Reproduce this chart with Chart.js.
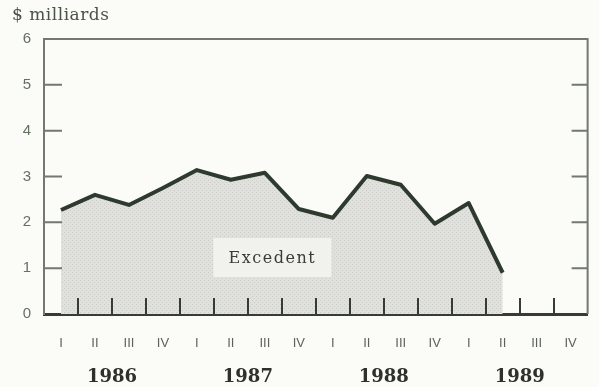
<!DOCTYPE html>
<html>
<head>
<meta charset="utf-8">
<script src="https://cdn.jsdelivr.net/npm/chart.js@4"></script>
<style>
  html, body { margin: 0; padding: 0; background: #fbfbf7; }
  #cadre { width: 599px; height: 387px; }
</style>
</head>
<body>
<div id="cadre"><canvas id="graf"></canvas></div>
<script>
// trimestres 1986-1989, excédent en milliards de dollars
const trimestres = ["I", "II", "III", "IV", "I", "II", "III", "IV", "I", "II", "III", "IV", "I", "II", "III", "IV"];
const annees = ["1986", "1987", "1988", "1989"];
const excedent = [2.27, 2.60, 2.38, 2.75, 3.14, 2.93, 3.08, 2.29, 2.10, 3.01, 2.82, 1.97, 2.42, 0.90];
const graduationsY = [0, 1, 2, 3, 4, 5, 6];
const etiquette = { texte: "Excedent", x: 6.22, y: 1.22 };

const GRIS = "#747872";
const FONCE = "#363b34";

// trame pointillée pour la surface
function trame() {
  const c = document.createElement("canvas");
  c.width = 4; c.height = 4;
  const g = c.getContext("2d");
  g.fillStyle = "#e0e1dc";
  g.fillRect(0, 0, 4, 4);
  g.fillStyle = "#cbccc7";
  g.fillRect(0, 0, 1, 1);
  g.fillRect(2, 2, 1, 1);
  return g.createPattern(c, "repeat");
}

const decor = {
  id: "decor",
  beforeDraw(chart) {
    const ctx = chart.ctx;
    ctx.save();
    ctx.fillStyle = "#fbfbf7";
    ctx.fillRect(0, 0, chart.width, chart.height);
    ctx.restore();
  },
  afterDatasetsDraw(chart) {
    const { ctx, chartArea: a, scales: { x, y } } = chart;
    ctx.save();

    // cadre haut et droit
    ctx.strokeStyle = GRIS;
    ctx.lineWidth = 2;
    ctx.beginPath();
    ctx.moveTo(a.left, a.top);
    ctx.lineTo(a.right, a.top);
    ctx.lineTo(a.right, a.bottom);
    ctx.stroke();

    // graduations intérieures de l'axe Y, des deux côtés
    graduationsY.slice(1, -1).forEach(v => {
      const py = y.getPixelForValue(v);
      ctx.beginPath();
      ctx.moveTo(a.left, py); ctx.lineTo(a.left + 18, py);
      ctx.moveTo(a.right - 16, py); ctx.lineTo(a.right, py);
      ctx.stroke();
    });

    // séparations entre trimestres
    ctx.strokeStyle = FONCE;
    for (let i = 0; i < trimestres.length - 1; i++) {
      const px = Math.round(x.getPixelForValue(i + 0.5));
      ctx.beginPath();
      ctx.moveTo(px, a.bottom);
      ctx.lineTo(px, a.bottom - 16);
      ctx.stroke();
    }

    // encadré "Excedent"
    const cx = x.getPixelForValue(etiquette.x);
    const cy = y.getPixelForValue(etiquette.y);
    ctx.fillStyle = "#f1f2ee";
    ctx.fillRect(cx - 59, cy - 20, 118, 39);
    ctx.fillStyle = "#3a3c38";
    ctx.font = "16px 'DejaVu Serif'";
    ctx.letterSpacing = "1.5px";
    ctx.textAlign = "center";
    ctx.textBaseline = "middle";
    ctx.fillText(etiquette.texte, cx, cy + 1);
    ctx.restore();
  },
  afterDraw(chart) {
    const { ctx, scales: { x } } = chart;
    ctx.save();
    ctx.fillStyle = "#2e302c";
    ctx.font = "bold 18px 'DejaVu Serif'";
    ctx.textAlign = "center";
    ctx.textBaseline = "middle";
    annees.forEach((an, k) => {
      ctx.fillText(an, x.getPixelForValue(1.5 + 4 * k), 377);
    });

    ctx.fillStyle = "#4a5145";
    ctx.font = "17px 'DejaVu Serif'";
    ctx.letterSpacing = "0.5px";
    ctx.textAlign = "left";
    ctx.fillText("$ milliards", 12, 16);
    ctx.restore();
  }
};

new Chart(document.getElementById("graf"), {
  type: "line",
  data: {
    labels: trimestres,
    datasets: [{
      data: excedent,
      borderColor: "#2f3a2f",
      borderWidth: 4,
      borderJoinStyle: "round",
      backgroundColor: trame(),
      fill: "origin",
      pointRadius: 0,
      tension: 0
    }]
  },
  plugins: [decor],
  options: {
    responsive: true,
    maintainAspectRatio: false,
    animation: false,
    layout: { padding: { top: 39, right: 7, bottom: 0, left: 0 } },
    plugins: { legend: { display: false }, tooltip: { enabled: false } },
    scales: {
      x: {
        type: "category",
        offset: true,
        grid: { display: false, drawTicks: false },
        border: { display: true, color: FONCE, width: 3 },
        ticks: {
          autoSkip: false,
          maxRotation: 0,
          padding: 22,
          color: "#5e625c",
          font: { family: "'Liberation Sans'", size: 13 }
        },
        afterFit(s) { s.height = 73; }
      },
      y: {
        min: 0,
        max: 6,
        grid: { display: false, drawTicks: false },
        border: { display: true, color: GRIS, width: 2 },
        ticks: {
          stepSize: 1,
          padding: 13,
          color: "#667060",
          font: { family: "'Liberation Sans'", size: 15 }
        },
        afterFit(s) { s.width = 44; }
      }
    }
  }
});
</script>
</body>
</html>
